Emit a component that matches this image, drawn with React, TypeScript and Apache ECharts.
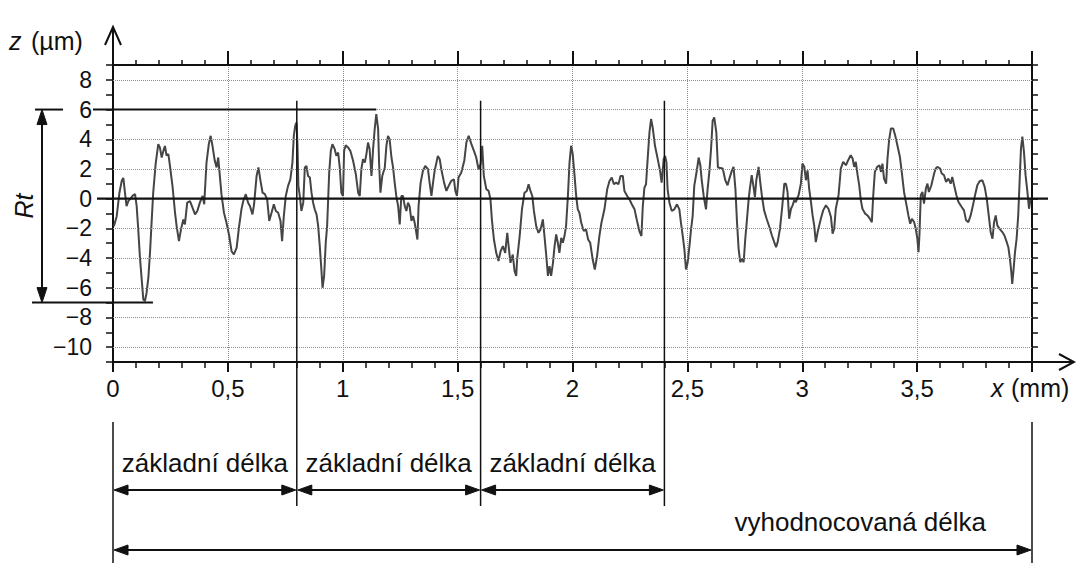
import React, { useEffect, useRef } from 'react';
import * as echarts from 'echarts';

const FONT = '"Liberation Sans", Arial, sans-serif';

// axis ranges and tick values
const xMin = 0;
const xMax = 4;
const xStep = 0.5;
const zMin = -11;
const zMax = 9;
const zGridValues = [-10, -8, -6, -4, -2, 2, 4, 6, 8];

// annotations
const samplingBounds = [0, 0.8, 1.6, 2.4];
const evaluationBounds = [0, 4];
const rtPeakLevel = 6;
const rtValleyLevel = -7;
const samplingLabel = 'základní délka';
const evaluationLabel = 'vyhodnocovaná délka';
const zAxisName = ['z', '(µm)'];
const xAxisName = ['x', '(mm)'];

// roughness profile  [x (mm), z (µm)], per sampling length
const profileA: [number, number][] = [
  [0.004, -1.85], [0.016, -1.2], [0.028, 0.4], [0.038, 1.2], [0.045, 1.4], [0.052, 0.4], [0.059, -0.5], [0.067, -0.15],
  [0.077, 0], [0.086, 0.2], [0.096, 0.3], [0.103, -0.5], [0.11, -2.1], [0.117, -3.9], [0.125, -5.45], [0.132, -6.8],
  [0.139, -6.9], [0.146, -6.35], [0.154, -5.3], [0.161, -3.65], [0.168, -1.6], [0.175, 0.4], [0.186, 2.4], [0.197, 3.67],
  [0.204, 3.45], [0.212, 2.77], [0.219, 3.2], [0.226, 3.55], [0.233, 2.9], [0.241, 3.0], [0.248, 2.2], [0.259, 0.85],
  [0.27, -0.95], [0.277, -1.85], [0.287, -2.86], [0.296, -2.07], [0.306, -1.4], [0.313, -1.73], [0.323, -0.27], [0.335, -0.16],
  [0.346, -0.6], [0.357, -1.06], [0.367, -0.83], [0.378, -0.27], [0.39, 0.18], [0.397, -0.38], [0.407, 2.43], [0.417, 3.67],
  [0.425, 4.23], [0.433, 3.56], [0.443, 2.55], [0.451, 2.1], [0.458, 2.77], [0.465, 1.53], [0.472, 0.3], [0.483, -0.95],
  [0.494, -1.62], [0.506, -2.52], [0.516, -3.54], [0.526, -3.76], [0.538, -3.31], [0.549, -1.85], [0.559, -0.72], [0.567, -0.16],
  [0.578, 0.3], [0.588, -0.27], [0.596, -0.5], [0.607, -1.06], [0.614, -0.38], [0.625, 1.53], [0.633, 2.1], [0.642, 1.2],
  [0.651, 0.4], [0.661, 0.3], [0.671, -0.05], [0.68, -1.5], [0.69, -0.95], [0.7, -0.38], [0.709, -0.83], [0.719, -0.95],
  [0.729, -1.5], [0.736, -2.86], [0.743, -1.28], [0.752, 0.18], [0.762, 0.86], [0.772, 1.3], [0.781, 2.43], [0.787, 4.23],
  [0.793, 4.9], [0.799, 5.13],
];
const profileB: [number, number][] = [
  [0.803, 3.56], [0.807, 0.86], [0.813, 0.18], [0.82, -0.83], [0.828, -0.27], [0.835, 2.1], [0.842, 2.2], [0.849, 1.53],
  [0.857, 1.42], [0.864, 0.4], [0.871, -0.27], [0.878, -0.72], [0.886, -1.06], [0.893, -1.85], [0.9, -3.2], [0.907, -4.77],
  [0.912, -6.0], [0.919, -5.2], [0.926, -2.97], [0.932, -1.85], [0.941, 1.76], [0.948, 3.22], [0.955, 3.67], [0.965, 3.33],
  [0.972, 2.88], [0.98, 3.1], [0.987, 2.1], [0.994, 0.4], [1.001, 0.18], [1.006, 3.22], [1.013, 3.6], [1.023, 3.45],
  [1.033, 3.22], [1.045, 2.55], [1.057, 1.64], [1.067, 0.4], [1.074, 0.18], [1.081, 1.98], [1.088, 2.66], [1.096, 2.43],
  [1.103, 3.0], [1.11, 3.78], [1.117, 3.33], [1.125, 1.53], [1.132, 3.33], [1.139, 4.68], [1.146, 5.7], [1.154, 4.68],
  [1.158, 2.43], [1.164, 0.4], [1.172, 1.53], [1.183, 2.1], [1.19, 3.56], [1.197, 4.23], [1.204, 4.0], [1.212, 2.77],
  [1.219, 2.1], [1.226, 1.08], [1.233, 0.18], [1.241, -0.5], [1.248, -1.73], [1.255, 0.18], [1.262, 0.18], [1.27, -0.5],
  [1.277, -0.83], [1.284, -0.27], [1.291, -0.5], [1.299, -1.5], [1.306, -1.17], [1.313, -1.62], [1.325, -2.75], [1.33, -0.5],
  [1.339, 1.08], [1.349, 1.87], [1.359, 2.2], [1.371, 1.98], [1.378, 1.08], [1.386, 0.18], [1.393, 1.08], [1.4, 1.87],
  [1.414, 2.88], [1.422, 2.66], [1.429, 1.98], [1.441, 1.08], [1.451, 0.52], [1.461, 0.86], [1.472, 1.19], [1.484, 1.3],
  [1.49, 0.52], [1.497, 0.18], [1.504, 1.42], [1.516, 1.76], [1.529, 2.55], [1.538, 3.78], [1.548, 4.23], [1.56, 3.67],
  [1.571, 3.22], [1.581, 2.77], [1.591, 1.98], [1.6, 2.32],
];
const profileC: [number, number][] = [
  [1.607, 3.56], [1.614, 1.53], [1.625, 0.63], [1.635, 0.52], [1.643, -0.05], [1.649, -1.4], [1.658, -2.75], [1.668, -3.65],
  [1.678, -4.2], [1.687, -3.54], [1.697, -3.2], [1.707, -3.65], [1.716, -2.3], [1.722, -3.2], [1.73, -4.32], [1.74, -3.76],
  [1.748, -4.89], [1.755, -5.2], [1.759, -4.1], [1.77, -2.52], [1.78, -0.72], [1.791, 0.4], [1.801, 0.52], [1.809, 0.97],
  [1.817, 0.52], [1.825, 0.18], [1.832, -0.83], [1.842, -1.85], [1.852, -2.3], [1.861, -2.07], [1.871, -1.4], [1.878, -2.52],
  [1.886, -3.87], [1.893, -5.2], [1.9, -4.55], [1.907, -5.2], [1.915, -4.32], [1.922, -3.2], [1.929, -2.41], [1.936, -2.97],
  [1.943, -3.65], [1.951, -2.64], [1.958, -2.97], [1.965, -2.52], [1.972, -1.85], [1.98, 0.18], [1.987, 2.43], [1.994, 3.56],
  [2.001, 3.0], [2.009, 1.53], [2.016, 0.18], [2.023, -0.72], [2.03, -0.95], [2.038, -1.62], [2.049, -2.18], [2.059, -2.07],
  [2.068, -2.75], [2.077, -2.97], [2.088, -4.1], [2.097, -4.77], [2.107, -3.87], [2.117, -2.52], [2.126, -1.62], [2.139, -0.72],
  [2.151, 0.63], [2.161, 1.19], [2.171, 1.42], [2.18, 0.97], [2.19, 1.08], [2.2, 0.97], [2.209, 1.53], [2.219, 1.53],
  [2.226, 0.52], [2.238, 0.18], [2.248, -0.05], [2.258, -0.38], [2.27, -0.72], [2.281, -1.5], [2.291, -2.18], [2.3, -2.52],
  [2.306, -0.5], [2.313, 0.74], [2.32, 0.97], [2.328, 2.88], [2.335, 4.46], [2.342, 5.36], [2.349, 4.8], [2.359, 3.56],
  [2.371, 2.66], [2.381, 1.87], [2.388, 1.08], [2.397, 2.66],
];
const profileD: [number, number][] = [
  [2.403, 2.88], [2.409, 2.43], [2.414, 0.63], [2.422, -0.27], [2.432, -0.83], [2.443, -0.72], [2.455, -0.38], [2.465, -0.72],
  [2.472, -1.62], [2.48, -2.52], [2.487, -3.42], [2.494, -4.77], [2.501, -4.32], [2.509, -3.2], [2.516, -2.07], [2.523, -1.17],
  [2.53, 0.86], [2.542, 1.98], [2.549, 2.77], [2.557, 2.2], [2.562, 1.3], [2.571, 0.18], [2.581, -0.72], [2.588, 0.63],
  [2.596, 1.87], [2.603, 3.33], [2.61, 5.25], [2.617, 5.47], [2.626, 4.46], [2.633, 2.1], [2.654, 2.03], [2.665, 1.24],
  [2.675, 0.9], [2.683, 1.35], [2.694, 1.91], [2.701, 2.14], [2.709, 0.68], [2.716, -1.58], [2.723, -3.38], [2.73, -4.28],
  [2.738, -4.05], [2.745, -4.28], [2.752, -2.7], [2.759, -1.46], [2.767, 0], [2.772, 0.68], [2.78, 1.58], [2.787, 0.9],
  [2.794, 0.11], [2.8, 1.24], [2.81, 2.14], [2.817, 1.13], [2.824, 0.23], [2.834, -0.79], [2.845, -1.35], [2.857, -1.91],
  [2.868, -2.48], [2.878, -2.93], [2.886, -3.27], [2.893, -2.93], [2.903, -2.03], [2.912, -0.68], [2.922, 1.01], [2.929, 1.01],
  [2.936, 0.45], [2.943, -1.35], [2.951, -0.68], [2.958, -0.45], [2.965, -0.11], [2.972, -0.23], [2.984, 0.23], [2.994, 1.01],
  [3.001, 2.36], [3.009, 2.14], [3.016, 1.24], [3.023, 1.91], [3.03, 0.68], [3.038, -0.23], [3.045, -1.13], [3.052, -1.8],
  [3.059, -2.93], [3.067, -2.25], [3.074, -1.8], [3.081, -1.35], [3.091, -0.79], [3.103, -0.45], [3.114, -0.68], [3.125, -1.24],
  [3.132, -2.36], [3.139, -2.03], [3.146, -0.68], [3.158, 0.23], [3.168, 2.03], [3.178, 2.48], [3.19, 2.25], [3.2, 2.59],
  [3.211, 2.93], [3.219, 2.7], [3.226, 2.14], [3.233, 2.48], [3.241, 1.58], [3.248, 0.9], [3.255, -0.11], [3.262, -0.68],
  [3.274, -1.01], [3.284, -1.13], [3.294, -1.35], [3.303, -1.58], [3.309, 0.23], [3.316, 1.8], [3.326, 2.14], [3.336, 2.25],
  [3.343, 1.8], [3.349, 2.36], [3.356, 1.35], [3.365, 1.01], [3.371, 2.7], [3.378, 3.94], [3.386, 4.73], [3.396, 4.73],
  [3.404, 4.28], [3.414, 3.6], [3.425, 2.82], [3.433, 1.8], [3.443, 0.45], [3.454, -0.45], [3.462, -1.13], [3.47, -1.69],
  [3.477, -1.35], [3.487, -1.58], [3.494, -2.03], [3.501, -2.7], [3.506, -3.6], [3.51, -2.48], [3.516, 0.23], [3.523, 0.45],
  [3.53, -0.34], [3.538, 0.68], [3.545, 1.01], [3.551, 0.45], [3.562, 0.9], [3.574, 1.69], [3.581, 2.03], [3.588, 2.14],
  [3.6, 2.03], [3.607, 1.69], [3.617, 1.58], [3.626, 1.13], [3.636, 1.35], [3.646, 1.01], [3.653, 1.46], [3.661, 0.9],
  [3.671, 0.23], [3.68, -0.23], [3.694, -0.56], [3.704, -0.79], [3.713, -1.46], [3.723, -1.58], [3.733, -1.13], [3.743, -0.45],
  [3.752, 0.23], [3.762, 0.9], [3.772, 1.17], [3.784, 1.24], [3.794, 0.79], [3.803, 0], [3.81, -0.9], [3.82, -2.25],
  [3.828, -2.7], [3.835, -1.58], [3.842, -1.13], [3.849, -1.8], [3.859, -2.03], [3.871, -2.25], [3.88, -2.48], [3.89, -2.93],
  [3.897, -3.27], [3.904, -4.05], [3.91, -4.95], [3.914, -5.74], [3.92, -4.73], [3.926, -3.6], [3.933, -2.7], [3.94, -1.13],
  [3.946, 1.13], [3.952, 3.38], [3.958, 4.17], [3.965, 3.15], [3.972, 1.58], [3.98, 0.45], [3.987, -0.68], [3.994, 0],
];

const profile = [...profileA, ...profileB, ...profileC, ...profileD];

const INK = '#111111';

export default function App() {
  const ref = useRef<HTMLDivElement>(null);

  useEffect(() => {
    if (!ref.current) return;
    const chart = echarts.init(ref.current, undefined, { renderer: 'svg' });

    const axisLine = { show: true, onZero: false, lineStyle: { color: INK, width: 2 } };
    const xTickFmt = (v: number) => (v >= xMax ? '' : String(v).replace('.', ','));
    const zTickFmt = (v: number) => {
      if (Math.abs(v) % 2 !== 0 || v < -10 || v > 8) return '';
      return v < 0 ? '\u2212' + Math.abs(v) : String(v);
    };

    chart.setOption({
      animation: false,
      backgroundColor: '#ffffff',
      grid: { left: 113, right: 44, top: 65, bottom: 201, containLabel: false },
      xAxis: [
        {
          type: 'value', position: 'bottom', min: xMin, max: xMax, interval: xStep,
          axisLine,
          axisTick: { show: true, length: 10, lineStyle: { color: INK, width: 2 } },
          minorTick: { show: true, splitNumber: 5, length: 6, lineStyle: { color: INK, width: 1.5 } },
          axisLabel: { margin: 14, fontSize: 24, color: INK, fontFamily: FONT, formatter: xTickFmt },
          splitLine: { show: true, lineStyle: { type: 'dotted', color: '#8c8c8c', width: 1 } },
        },
        {
          type: 'value', position: 'top', min: xMin, max: xMax, interval: xStep,
          axisLine,
          axisTick: { show: true, length: 14, lineStyle: { color: INK, width: 2 } },
          minorTick: { show: true, splitNumber: 5, length: 5, lineStyle: { color: INK, width: 1.5 } },
          axisLabel: { show: false },
          splitLine: { show: false },
        },
      ],
      yAxis: [
        {
          type: 'value', position: 'left', min: zMin, max: zMax, interval: 1,
          axisLine,
          axisTick: { show: true, length: 7, lineStyle: { color: INK, width: 1.5 } },
          axisLabel: { margin: 21, fontSize: 23, color: INK, fontFamily: FONT, formatter: zTickFmt },
          splitLine: { show: false },
        },
        {
          type: 'value', position: 'right', min: zMin, max: zMax, interval: 1,
          axisLine,
          axisTick: { show: true, length: 6, lineStyle: { color: INK, width: 1.5 } },
          axisLabel: { show: false },
          splitLine: { show: false },
        },
      ],
      series: [
        {
          type: 'line',
          xAxisIndex: 0,
          yAxisIndex: 0,
          data: profile,
          showSymbol: false,
          symbol: 'none',
          lineStyle: { color: '#454545', width: 2 },
          markLine: {
            silent: true,
            symbol: 'none',
            label: { show: false },
            lineStyle: { type: 'dotted', color: '#8c8c8c', width: 1 },
            data: zGridValues.map((v) => ({ yAxis: v })),
          },
          z: 3,
        },
      ],
    });

    const p = (x: number, z: number) => chart.convertToPixel({ seriesIndex: 0 }, [x, z]) as number[];
    const [x0, yBottom] = p(xMin, zMin);
    const [x4, yTop] = p(xMax, zMax);
    const y0 = p(0, 0)[1];
    const yPeak = p(0, rtPeakLevel)[1];
    const yValley = p(0, rtValleyLevel)[1];

    let peakX = profile[0][0];
    let valleyX = profile[0][0];
    let zMaxV = -Infinity;
    let zMinV = Infinity;
    profile.forEach(([x, z]) => {
      if (z > zMaxV) { zMaxV = z; peakX = x; }
      if (z < zMinV) { zMinV = z; valleyX = x; }
    });

    const g: any[] = [];
    const line = (x1: number, y1: number, x2: number, y2: number, w = 2, color = INK) =>
      g.push({ type: 'line', silent: true, z: 10, shape: { x1, y1, x2, y2 }, style: { stroke: color, lineWidth: w } });
    const tri = (pts: number[][]) =>
      g.push({ type: 'polygon', silent: true, z: 10, shape: { points: pts }, style: { fill: INK, stroke: INK, lineWidth: 1 } });
    const text = (x: number, y: number, s: string, font: string, align = 'left', rotation = 0) =>
      g.push({
        type: 'text', silent: true, z: 10, x, y, rotation,
        style: { text: s, x: 0, y: 0, font, fill: INK, textAlign: align, textVerticalAlign: 'middle', verticalAlign: 'middle' },
      });
    const hArrow = (xa: number, xb: number, y: number) => {
      const L = 14;
      const h = 5;
      line(xa + L - 1, y, xb - L + 1, y, 2);
      tri([[xa, y], [xa + L, y - h], [xa + L, y + h]]);
      tri([[xb, y], [xb - L, y - h], [xb - L, y + h]]);
    };

    // mean line (z = 0), extended past the frame
    line(x0 - 16, y0, x4 + 16, y0, 2.2);
    // z axis arrow
    line(x0, yTop, x0, 28, 2);
    g.push({ type: 'polyline', silent: true, z: 10, shape: { points: [[x0 - 8, 45], [x0, 27], [x0 + 8, 45]] }, style: { stroke: INK, lineWidth: 2, fill: 'none' } });
    // x axis arrow
    line(x4, yBottom, 1073, yBottom, 2);
    g.push({ type: 'polyline', silent: true, z: 10, shape: { points: [[1059, yBottom - 8], [1074, yBottom], [1059, yBottom + 8]] }, style: { stroke: INK, lineWidth: 2, fill: 'none' } });

    // Rt: peak and valley lines
    const xPeakPx = p(peakX, 0)[0];
    const xValleyPx = p(valleyX, 0)[0] + 8;
    line(35, yPeak, 63, yPeak, 2);
    line(93, yPeak, xPeakPx, yPeak, 2);
    line(32, yValley, xValleyPx, yValley, 2);
    // Rt double arrow
    const ax = 42;
    line(ax, yPeak + 14, ax, yValley - 14, 2);
    tri([[ax, yPeak], [ax - 5, yPeak + 15], [ax + 5, yPeak + 15]]);
    tri([[ax, yValley], [ax - 5, yValley - 15], [ax + 5, yValley - 15]]);
    text(24, (yPeak + yValley) / 2, 'Rt', 'italic 25px ' + FONT, 'center', Math.PI / 2);

    // axis names
    text(9, 41, zAxisName[0], 'italic 25px ' + FONT);
    text(31, 41, zAxisName[1], '25px ' + FONT);
    text(991, 388, xAxisName[0], 'italic 25px ' + FONT);
    text(1011, 388, xAxisName[1], '25px ' + FONT);

    // sampling lengths
    const yRowText = 463;
    const yRowArrow = 490;
    samplingBounds.forEach((b, i) => {
      const px = p(b, 0)[0];
      if (i > 0) line(px, p(b, 6.6)[1], px, 506, 1.5);
    });
    for (let i = 0; i < samplingBounds.length - 1; i++) {
      const xa = p(samplingBounds[i], 0)[0];
      const xb = p(samplingBounds[i + 1], 0)[0];
      hArrow(xa + 1, xb - 1, yRowArrow);
      text((xa + xb) / 2, yRowText, samplingLabel, '26px ' + FONT, 'center');
    }
    // evaluation length
    const xe0 = p(evaluationBounds[0], 0)[0];
    const xe1 = p(evaluationBounds[1], 0)[0];
    line(xe0, 422, xe0, 563, 1.5);
    line(xe1, 422, xe1, 563, 1.5);
    hArrow(xe0 + 1, xe1 - 1, 550);
    text(xe1 - 46, 522, evaluationLabel, '26px ' + FONT, 'right');

    chart.setOption({ graphic: g });

    return () => chart.dispose();
  }, []);

  return (
    <div
      ref={ref}
      style={{ position: 'fixed', left: 0, top: 0, width: 1076, height: 563, background: '#fff' }}
    />
  );
}
